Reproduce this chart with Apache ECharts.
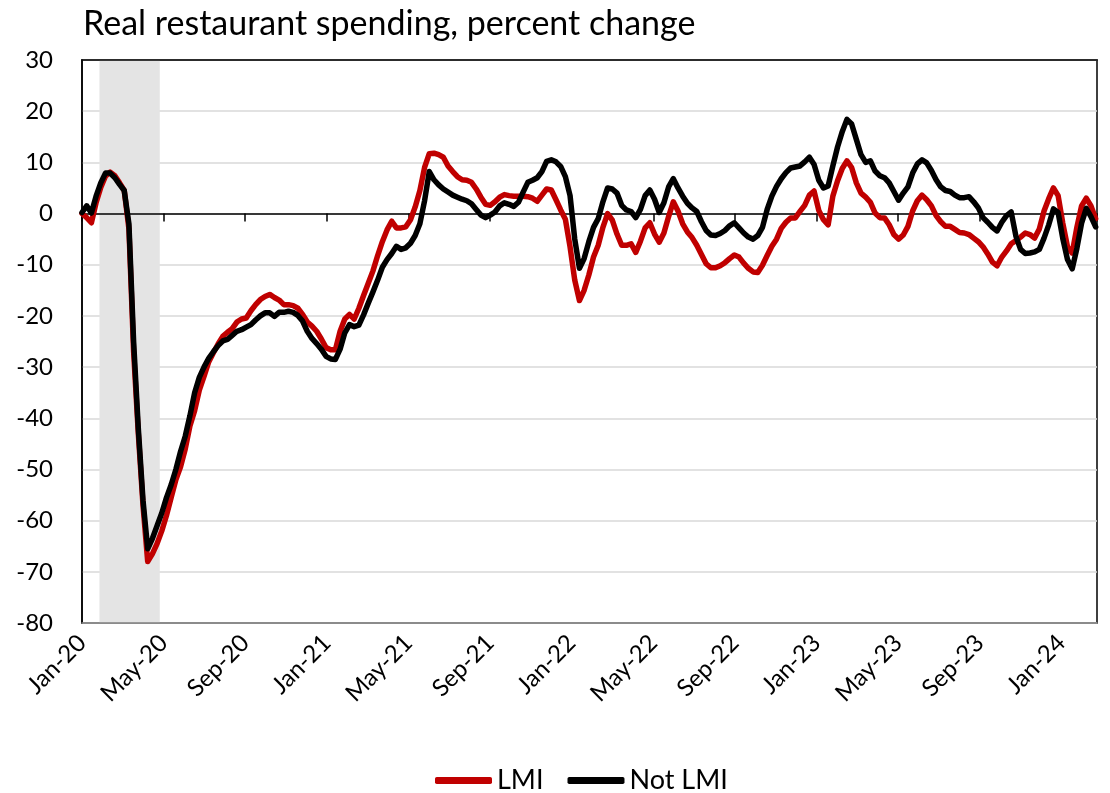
<!DOCTYPE html>
<html>
<head>
<meta charset="utf-8">
<script src="https://cdn.jsdelivr.net/npm/echarts@6/dist/echarts.min.js"></script>
<style>
  html, body { margin: 0; padding: 0; background: #ffffff; }
  #chart { width: 1110px; height: 793px; }
</style>
</head>
<body>
<div id="chart"></div>
<script>
// Weekly real restaurant spending, percent change, by income group
const titleText = 'Real restaurant spending, percent change';
const seriesNames = ['LMI', 'Not LMI'];
const tickLabels = ['Jan-20', 'May-20', 'Sep-20', 'Jan-21', 'May-21', 'Sep-21', 'Jan-22',
                    'May-22', 'Sep-22', 'Jan-23', 'May-23', 'Sep-23', 'Jan-24'];
const firstWeek = '2020-01-01';
const axisEnd = '2024-02-23';
const recession = ['2020-01-27', '2020-04-26'];

const lmi = [
  0, -0.8, -1.8, 2.1, 5.1, 7.3, 8.1, 7.4, 6.0, 4.5,
  -3, -27, -43, -57, -68, -66.5, -64.5, -62, -59, -55.5,
  -52, -49.5, -46, -41.5, -38.5, -34.5, -31.8, -29, -27.2, -25.5,
  -24, -23.2, -22.5, -21.2, -20.6, -20.4, -19, -17.8, -16.8, -16.2,
  -15.8, -16.4, -16.9, -17.8, -17.8, -18, -18.5, -19.7, -21.2, -22,
  -23, -24.5, -26.2, -26.6, -26.6, -23, -20.6, -19.7, -20.6, -18.5,
  -16, -13.6, -11.2, -8.2, -5.5, -3.2, -1.5, -2.8, -2.8, -2.6,
  -1.2, 1.3, 4.5, 9, 11.7, 11.8, 11.5, 11, 9.3, 8.2,
  7.2, 6.6, 6.5, 6.1, 4.8, 3.2, 1.8, 1.6, 2.3, 3.2,
  3.7, 3.5, 3.4, 3.4, 3.4, 3.3, 3.0, 2.4, 3.6, 4.8,
  4.6, 2.7, 0.7, -1.1, -6.5, -13, -17, -15, -12, -8.5,
  -6.2, -2.7, 0.0, -1.3, -4.0, -6.2, -6.2, -5.9, -7.6, -5.4,
  -2.8, -1.8, -4.0, -5.6, -3.8, -0.6, 2.3, 0.5, -2.0, -3.6,
  -4.7, -6.2, -8.0, -9.8, -10.6, -10.6, -10.2, -9.6, -8.8, -8.1,
  -8.5, -9.7, -10.7, -11.4, -11.5, -10.1, -8.2, -6.4, -5.0, -2.9,
  -1.7, -0.85, -0.85, 0.4, 1.6, 3.6, 4.4, 0.6, -1.2, -2.2,
  3.4, 6.4, 8.8, 10.3, 9.0, 6.0, 4.0, 3.2, 2.2, 0.1,
  -0.8, -0.85, -2.2, -4.1, -5.0, -4.2, -2.5, 0.5, 2.5, 3.6,
  2.7, 1.5, -0.4, -1.6, -2.5, -2.5, -3.1, -3.7, -3.8, -4.1,
  -4.8, -5.5, -6.5, -7.9, -9.5, -10.2, -8.5, -7.3, -5.9, -5.3,
  -4.6, -3.8, -4.1, -4.8, -3.0, 0.5, 2.9, 5.0, 3.5, -1.9,
  -6.5, -7.7, -2.7, 1.5, 3.0, 1.5, -1.0
];

const notLmi = [
  0.2, 1.5, 0.1, 3.4, 6.0, 7.9, 7.9, 7.0, 5.7, 4.5,
  -2, -25, -42, -56, -65.5, -63.5, -61, -58.5, -55.5, -53,
  -50, -46.5, -43.5, -39.5, -35, -32, -30, -28.3, -27, -25.8,
  -24.9, -24.6, -23.8, -23, -22.7, -22.2, -21.7, -20.8, -20, -19.4,
  -19.4, -20.1, -19.3, -19.3, -19.1, -19.3, -19.9, -21, -23, -24.4,
  -25.4, -26.5, -27.9, -28.4, -28.5, -26.5, -23.3, -21.7, -22.1, -21.8,
  -19.8, -17.5, -15.3, -13, -10.5, -9, -7.8, -6.4, -7, -6.7,
  -5.8, -4.3, -2, 2.5, 8.2, 6.6, 5.6, 4.8, 4.2, 3.6,
  3.2, 2.8, 2.5, 1.9, 0.8, -0.3, -0.8, -0.3, 0.3, 1.5,
  2.1, 1.8, 1.4, 2.2, 4.2, 6.1, 6.5, 7.0, 8.2, 10.2,
  10.5, 10.1, 9.2, 7.2, 3.5, -5, -10.7, -8.8, -5.5, -2.7,
  -1.0, 2.3, 5.0, 4.8, 4.0, 1.6, 0.7, 0.4, -0.8, 0.8,
  3.5, 4.6, 2.8, 0.2, 2.1, 5.2, 6.8, 5.0, 3.4, 2.0,
  1.1, 0.4, -1.6, -3.3, -4.2, -4.3, -3.9, -3.3, -2.4, -1.8,
  -2.8, -3.8, -4.6, -5.0, -4.3, -2.7, 0.8, 3.4, 5.3, 6.8,
  8.0, 8.9, 9.1, 9.3, 10.1, 11.0, 9.6, 6.5, 5.0, 5.4,
  9.3, 13.0, 16.0, 18.4, 17.5, 14.5, 11.5, 10.0, 10.3, 8.3,
  7.4, 7.0, 6.0, 4.3, 2.6, 4.0, 5.2, 7.9, 9.7, 10.5,
  9.9, 8.4, 6.6, 5.2, 4.5, 4.3, 3.6, 3.1, 3.1, 3.3,
  2.3, 1.1, -0.8, -1.7, -2.7, -3.4, -1.7, -0.4, 0.3, -4.4,
  -7.0, -7.8, -7.7, -7.5, -7.0, -4.8, -2.2, 0.9, 0.2, -4.9,
  -9.0, -10.8, -6.8, -1.9, 1.0, -0.6, -2.6
];

// x positions are day offsets from 1 Jan 2020
const DAY_MS = 86400000;
const origin = Date.UTC(2020, 0, 1);
const dayOf = s => (Date.parse(s + 'T00:00:00Z') - origin) / DAY_MS;
const tickStep = dayOf('2024-01-01') / (tickLabels.length - 1);
const xMax = dayOf(axisEnd);
const weekDay = i => dayOf(firstWeek) + 7 * i;
const toPairs = arr => arr.map((v, i) => [weekDay(i), v]);

const FONT = 'Lato, "Open Sans", sans-serif';
const RED = '#c00000';

const labelFor = v => {
  const k = Math.round(v / tickStep);
  return Math.abs(v - k * tickStep) < 0.5 && tickLabels[k] ? tickLabels[k] : '';
};

const chart = echarts.init(document.getElementById('chart'), null, { renderer: 'canvas' });
chart.setOption({
  animation: false,
  backgroundColor: '#ffffff',
  textStyle: { fontFamily: FONT },
  title: {
    text: titleText,
    left: 78, top: 2,
    textStyle: { fontFamily: FONT, fontSize: 34, fontWeight: 'normal', color: '#000' }
  },
  legend: {
    data: seriesNames,
    left: 430, top: 762,
    itemWidth: 57, itemHeight: 7, itemGap: 24,
    icon: 'roundRect',
    textStyle: { fontFamily: FONT, fontSize: 27, color: '#000' }
  },
  grid: {
    left: 82, right: 13, top: 60, bottom: 170,
    show: true, borderColor: '#000', borderWidth: 1.5, backgroundColor: 'transparent'
  },
  xAxis: [
    {
      type: 'value', position: 'bottom', min: 0, max: xMax, interval: tickStep,
      axisLine: { show: true, onZero: false, lineStyle: { color: '#7f7f7f', width: 1.5 } },
      axisTick: { show: false },
      splitLine: { show: false },
      axisLabel: {
        rotate: 45, margin: 16, fontSize: 24, color: '#000', fontFamily: FONT,
        hideOverlap: false, showMinLabel: true, showMaxLabel: true, formatter: labelFor
      },
      z: 2
    },
    {
      type: 'value', position: 'bottom', min: 0, max: xMax, interval: tickStep,
      axisLine: { show: true, onZero: true, lineStyle: { color: '#000', width: 1.5 } },
      axisTick: { show: true, inside: false, length: 8, lineStyle: { color: '#000', width: 1.5 } },
      axisLabel: { show: false },
      splitLine: { show: false },
      z: 2
    },
    {
      type: 'value', position: 'top', min: 0, max: xMax,
      axisLine: { show: true, onZero: false, lineStyle: { color: '#000', width: 1.5 } },
      axisTick: { show: false }, axisLabel: { show: false }, splitLine: { show: false },
      z: 2
    }
  ],
  yAxis: {
    type: 'value', min: -80, max: 30, interval: 10,
    axisLine: { show: true, lineStyle: { color: '#000', width: 1.5 } },
    axisTick: { show: false },
    axisLabel: { fontSize: 24, color: '#000', margin: 29, fontFamily: FONT },
    splitLine: { show: true, lineStyle: { color: '#d9d9d9', width: 1.5 } }
  },
  series: [
    {
      name: 'recession', type: 'line', data: [], z: 1, silent: true,
      markArea: {
        silent: true,
        itemStyle: { color: '#e4e4e4' },
        data: [[{ xAxis: dayOf(recession[0]) }, { xAxis: dayOf(recession[1]) }]]
      }
    },
    {
      name: seriesNames[0], type: 'line', data: toPairs(lmi), z: 3,
      showSymbol: false, symbol: 'none',
      lineStyle: { color: RED, width: 5.5, join: 'round', cap: 'round' },
      itemStyle: { color: RED }
    },
    {
      name: seriesNames[1], type: 'line', data: toPairs(notLmi), z: 4,
      showSymbol: false, symbol: 'none',
      lineStyle: { color: '#000', width: 5.5, join: 'round', cap: 'round' },
      itemStyle: { color: '#000' }
    }
  ]
});
</script>
</body>
</html>
